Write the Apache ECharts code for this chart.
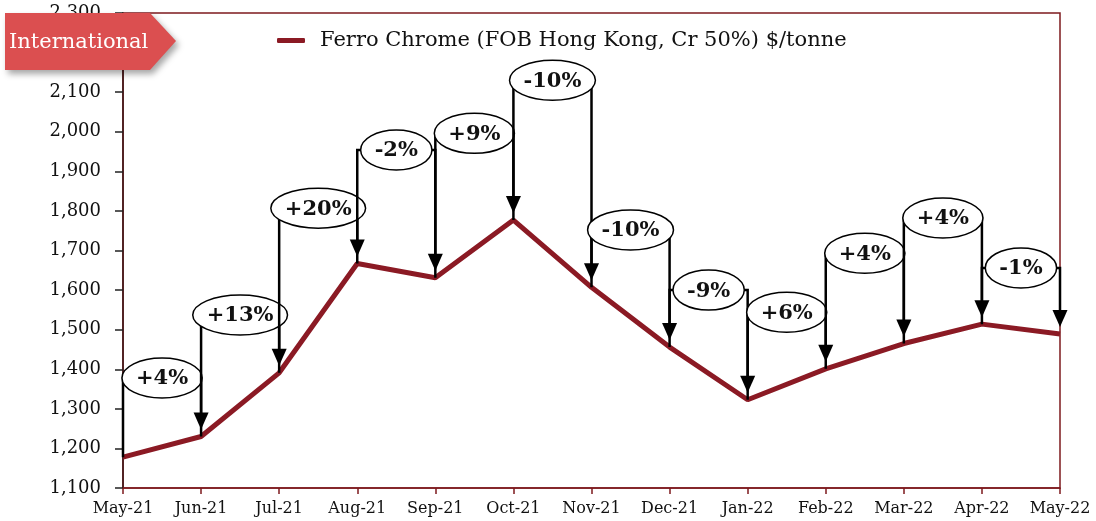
<!DOCTYPE html>
<html>
<head>
<meta charset="utf-8">
<style>
  html, body { margin: 0; padding: 0; background: #fff; }
  #chart { width: 1096px; height: 521px; }
</style>
<script src="https://cdn.jsdelivr.net/npm/echarts@6/dist/echarts.min.js"></script>
</head>
<body>
<div id="chart"></div>
<script>
const months = ['May-21', 'Jun-21', 'Jul-21', 'Aug-21', 'Sep-21', 'Oct-21', 'Nov-21',
  'Dec-21', 'Jan-22', 'Feb-22', 'Mar-22', 'Apr-22', 'May-22'];
const prices = [1178, 1230, 1391, 1667, 1631, 1777, 1607, 1456, 1323, 1401, 1465, 1514, 1489];
// month-on-month change callouts and the price level each bracket sits at
const changeLabels = ['+4%', '+13%', '+20%', '-2%', '+9%', '-10%', '-10%', '-9%', '+6%', '+4%', '+4%', '-1%'];
const bracketLevels = [1378, 1537, 1807, 1954, 1996, 2130, 1752, 1600, 1544, 1693, 1782, 1656];

const seriesName = 'Ferro Chrome (FOB Hong Kong, Cr 50%) $/tonne';
const serif = '"DejaVu Serif", "Liberation Serif", serif';
const darkRed = '#7d1a1e';
const lineRed = '#8b1a24';
const calloutFont = 'bold 21px ' + serif;

const measureCtx = document.createElement('canvas').getContext('2d');
measureCtx.font = calloutFont;

const bracketData = changeLabels.map((_, i) => [i, prices[i], prices[i + 1], bracketLevels[i]]);

function renderBracket(params, api) {
  const i = api.value(0);
  const p0 = api.coord([i, api.value(1)]);
  const p1 = api.coord([i + 1, api.value(2)]);
  const top = api.coord([i, api.value(3)])[1];
  const tipY = p1[1] - 7;
  const headH = 17;
  const headW = 7.5;
  const label = changeLabels[params.dataIndex];
  const rx = measureCtx.measureText(label).width / 2 + 14;
  const cx = (p0[0] + p1[0]) / 2;
  const lineStyle = { stroke: '#000', lineWidth: 2.5, fill: null };
  return {
    type: 'group',
    children: [
      {
        type: 'polyline',
        shape: { points: [[p0[0], p0[1]], [p0[0], top], [p1[0], top], [p1[0], tipY - headH + 2]] },
        style: lineStyle
      },
      {
        type: 'polygon',
        shape: { points: [[p1[0] - headW, tipY - headH], [p1[0] + headW, tipY - headH], [p1[0], tipY]] },
        style: { fill: '#000' }
      },
      {
        type: 'ellipse',
        shape: { cx: cx, cy: top, rx: rx, ry: 20 },
        style: { fill: '#fff', stroke: '#000', lineWidth: 1.5 }
      },
      {
        type: 'text',
        style: {
          text: label, x: cx, y: top + 1, align: 'center', verticalAlign: 'middle',
          font: calloutFont, fill: '#111'
        }
      }
    ]
  };
}

const chart = echarts.init(document.getElementById('chart'));

chart.setOption({
  animation: false,
  backgroundColor: '#fff',
  grid: {
    left: 123, right: 36, top: 13, bottom: 33,
    show: true, borderColor: darkRed, borderWidth: 1.5
  },
  legend: {
    data: [seriesName],
    left: 272, top: 25,
    icon: 'roundRect',
    itemWidth: 28, itemHeight: 5,
    textStyle: { fontFamily: serif, fontSize: 21, color: '#111', padding: [0, 0, 0, 10] }
  },
  xAxis: {
    type: 'category',
    data: months,
    boundaryGap: false,
    axisLine: { lineStyle: { color: darkRed, width: 1.5 } },
    axisTick: { alignWithLabel: true, interval: 0, length: 6, lineStyle: { color: darkRed, width: 1.5 } },
    axisLabel: { interval: 0, hideOverlap: false, fontFamily: serif, fontSize: 16, color: '#111', margin: 13 },
    splitLine: { show: false }
  },
  yAxis: {
    type: 'value',
    min: 1100, max: 2300, interval: 100,
    axisLine: { show: true, lineStyle: { color: '#3a1414', width: 1.5 } },
    axisTick: { show: true, length: 8, lineStyle: { color: '#222', width: 1.5 } },
    axisLabel: {
      fontFamily: serif, fontSize: 18, color: '#111', margin: 22,
      formatter: v => v.toLocaleString('en-US')
    },
    splitLine: { show: false }
  },
  series: [
    {
      name: seriesName,
      type: 'line',
      data: prices,
      symbol: 'none',
      lineStyle: { color: lineRed, width: 5 },
      itemStyle: { color: lineRed },
      z: 2
    },
    {
      type: 'custom',
      data: bracketData,
      encode: { x: 0, y: 3 },
      renderItem: renderBracket,
      clip: false,
      silent: true,
      z: 3
    }
  ],
  graphic: [
    {
      type: 'polygon',
      z: 100,
      shape: { points: [[5, 13], [150, 13], [176, 41], [150, 70], [5, 70]] },
      style: {
        fill: '#db4f50',
        shadowBlur: 6, shadowOffsetX: 3, shadowOffsetY: 4, shadowColor: 'rgba(0,0,0,0.35)'
      }
    },
    {
      type: 'text',
      z: 101,
      style: {
        text: 'International', x: 9, y: 43, verticalAlign: 'middle',
        font: '21px ' + serif, fill: '#fff'
      }
    }
  ]
});
</script>
</body>
</html>
